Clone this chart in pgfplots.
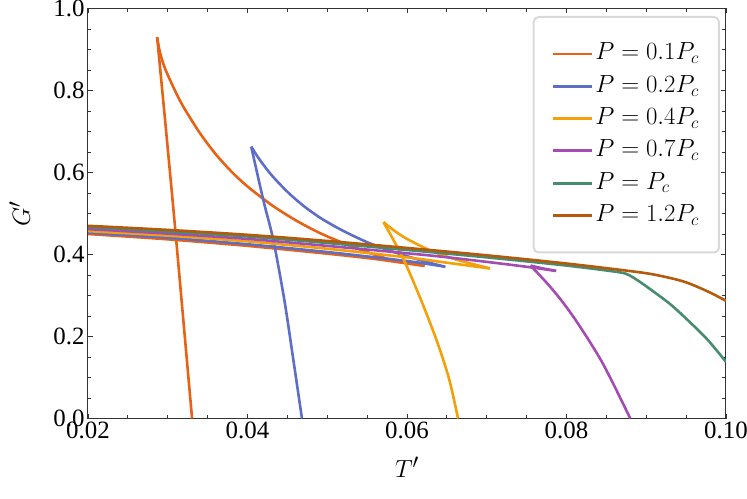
\documentclass[border=0pt]{standalone}
\usepackage{pgfplots}
\pgfplotsset{compat=1.18}
\usepackage{fontspec}
\setmainfont{Liberation Serif}
\definecolor{c1}{RGB}{232,98,22}
\definecolor{c2}{RGB}{94,110,200}
\definecolor{c3}{RGB}{245,160,8}
\definecolor{c4}{RGB}{165,75,180}
\definecolor{c5}{RGB}{72,140,112}
\definecolor{c6}{RGB}{180,90,10}
\begin{document}
\begin{tikzpicture}
\begin{axis}[
  scale only axis, width=638bp, height=410bp,
  xmin=0.02, xmax=0.10, ymin=0, ymax=1.0,
  xtick={0.02,0.04,0.06,0.08,0.10},
  ytick={0,0.2,0.4,0.6,0.8,1.0},
  minor tick num=3,
  xtick pos=both, ytick pos=both,
  tick align=inside,
  major tick length=5bp, minor tick length=3.5bp,
  tick style={black!80, line width=0.8bp},
  axis line style={black!80, line width=1bp},
  /pgf/number format/assume math mode=true,
  ticklabel style={font=\fontsize{25}{25}\selectfont},
  xticklabel style={/pgf/number format/.cd,fixed,fixed zerofill,precision=2},
  yticklabel style={/pgf/number format/.cd,fixed,fixed zerofill,precision=1},
  xlabel={$T'$}, ylabel={$G'$},
  label style={font=\fontsize{32}{32}\selectfont},
  xlabel style={at={(axis description cs:0.5,-0.118)}, anchor=center},
  ylabel style={at={(axis description cs:-0.107,0.5)}, anchor=center},
  legend style={at={(0.9906,0.9817)}, anchor=north east, draw=black!15, line width=2bp,
    rounded corners=5bp, fill=white, inner xsep=18bp, inner ysep=24bp, row sep=6.3bp,
    nodes={font=\fontsize{25}{25}\selectfont, inner sep=2bp, text height=17bp, text depth=5bp}},
  legend cell align=left,
  legend image code/.code={\draw[#1] (0bp,0bp) -- (39bp,0bp);},
]
\addlegendimage{c1, line width=2.8bp, rounded corners=0pt}
\addlegendentry{$P=0.1P_c$\hspace{8bp}}
\addlegendimage{c2, line width=2.8bp, rounded corners=0pt}
\addlegendentry{$P=0.2P_c$\hspace{8bp}}
\addlegendimage{c3, line width=2.8bp, rounded corners=0pt}
\addlegendentry{$P=0.4P_c$\hspace{8bp}}
\addlegendimage{c4, line width=2.8bp, rounded corners=0pt}
\addlegendentry{$P=0.7P_c$\hspace{8bp}}
\addlegendimage{c5, line width=2.8bp, rounded corners=0pt}
\addlegendentry{$P=P_c$}
\addlegendimage{c6, line width=2.8bp, rounded corners=0pt}
\addlegendentry{$P=1.2P_c$\hspace{8bp}}

% P = 0.1 Pc
\addplot[c1, line width=2.6bp, smooth, forget plot] coordinates {
(0.02,0.450)(0.03,0.437)(0.04,0.421)(0.05,0.402)(0.056,0.389)(0.0622,0.372)};
\addplot[c1, line width=2.6bp, smooth, forget plot] coordinates {
(0.0622,0.372)(0.0605,0.379)(0.058,0.387)(0.055,0.406)(0.052,0.428)(0.049,0.453)(0.046,0.484)(0.043,0.521)(0.040,0.566)(0.038,0.602)(0.036,0.645)(0.034,0.697)(0.032,0.759)(0.031,0.796)(0.0300,0.838)(0.0295,0.862)(0.0290,0.895)(0.02867,0.930)};
\addplot[c1, line width=2.6bp, smooth, forget plot] coordinates {
(0.02867,0.930)(0.0298,0.70)(0.0309,0.47)(0.0320,0.23)(0.03305,0)};

% P = 0.2 Pc
\addplot[c2, line width=2.6bp, smooth, forget plot] coordinates {
(0.02,0.453)(0.03,0.441)(0.04,0.425)(0.05,0.406)(0.06,0.384)(0.0648,0.370)};
\addplot[c2, line width=2.6bp, smooth, forget plot] coordinates {
(0.0648,0.370)(0.063,0.379)(0.061,0.390)(0.059,0.402)(0.057,0.415)(0.055,0.430)(0.053,0.448)(0.051,0.468)(0.049,0.491)(0.047,0.519)(0.045,0.553)(0.043,0.594)(0.0415,0.632)(0.04047,0.663)};
\addplot[c2, line width=2.6bp, smooth, forget plot] coordinates {
(0.04047,0.663)(0.04198,0.533)(0.04323,0.436)(0.04462,0.289)(0.04575,0.143)(0.04683,0)};

% P = 0.4 Pc
\addplot[c3, line width=2.6bp, smooth, forget plot] coordinates {
(0.02,0.457)(0.03,0.446)(0.04,0.432)(0.05,0.414)(0.06,0.393)(0.065,0.380)(0.0704,0.366)};
\addplot[c3, line width=2.6bp, smooth, forget plot] coordinates {
(0.0704,0.366)(0.067,0.383)(0.065,0.395)(0.063,0.409)(0.0615,0.423)(0.060,0.438)(0.059,0.450)(0.058,0.464)(0.05705,0.479)};
\addplot[c3, line width=2.6bp, smooth, forget plot] coordinates {
(0.05705,0.479)(0.0594,0.395)(0.0617,0.292)(0.0638,0.186)(0.0653,0.095)(0.0664,0)};

% P = 0.7 Pc
\addplot[c4, line width=2.6bp, smooth, forget plot] coordinates {
(0.02,0.462)(0.03,0.451)(0.04,0.438)(0.05,0.421)(0.06,0.403)(0.0642,0.395)(0.07,0.382)(0.075,0.370)(0.0787,0.360)};
\addplot[c4, line width=2.6bp, forget plot] coordinates {
(0.0787,0.360)(0.0770,0.366)(0.0755,0.373)};
\addplot[c4, line width=2.6bp, smooth, forget plot] coordinates {
(0.0755,0.373)(0.07756,0.330)(0.07932,0.289)(0.08139,0.233)(0.08453,0.135)(0.0880,0)};

% P = Pc
\addplot[c5, line width=2.6bp, smooth, forget plot] coordinates {
(0.02,0.467)(0.03,0.456)(0.04,0.444)(0.05,0.428)(0.06,0.411)(0.07,0.393)(0.08,0.373)(0.0865,0.357)(0.0878,0.350)(0.089,0.336)(0.0906,0.314)(0.093,0.279)(0.0952,0.240)(0.0977,0.192)(0.100,0.138)};

% P = 1.2 Pc
\addplot[c6, line width=2.6bp, smooth, forget plot] coordinates {
(0.02,0.470)(0.03,0.460)(0.04,0.448)(0.05,0.433)(0.06,0.416)(0.07,0.398)(0.08,0.378)(0.0878,0.360)(0.091,0.351)(0.0947,0.334)(0.0977,0.310)(0.100,0.287)};
\end{axis}
\pgfresetboundingbox
\useasboundingbox (-88bp,-80.5bp) rectangle (659bp,418.5bp);
\end{tikzpicture}
\end{document}
